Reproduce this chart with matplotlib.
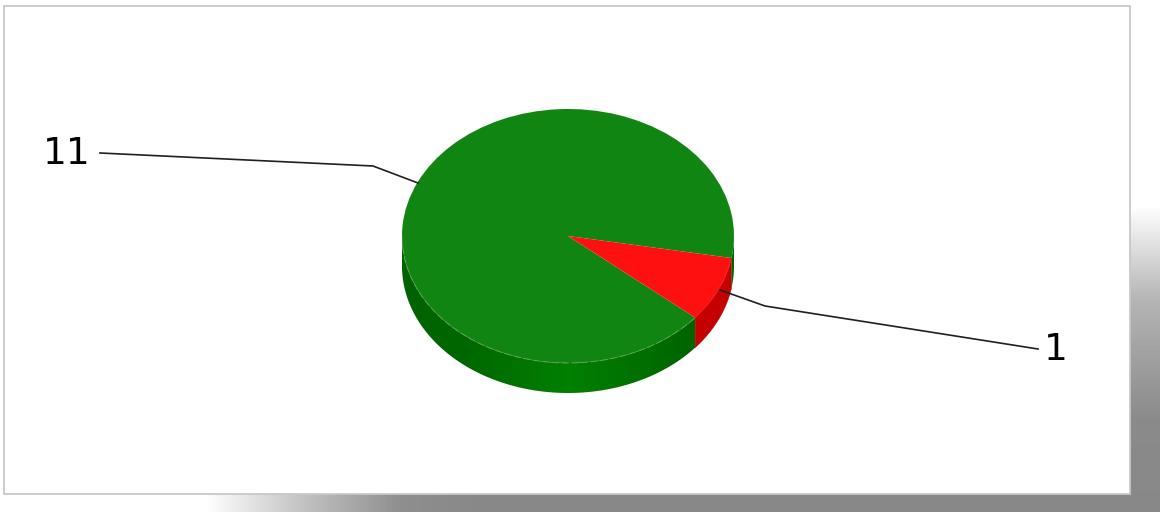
import numpy as np
import matplotlib
matplotlib.use("Agg")
import matplotlib.pyplot as plt
from matplotlib.patches import Polygon, Rectangle

W, H = 1160, 512

slice_values = [11, 1]
slice_labels = ["11", "1"]
top_colors = ["#118511", "#ff1010"]

# pie geometry in pixels
cx, cy = 568, 236
rx, ry = 166, 127
depth = 30
start = -10

fig = plt.figure(figsize=(W / 100, H / 100), dpi=100, facecolor="white")


def px_axes(left, top, right, bottom):
    return fig.add_axes([left / W, 1 - bottom / H, (right - left) / W, (bottom - top) / H])


# background, shadow and frame
bg = fig.add_axes([0, 0, 1, 1])
bg.set_xlim(0, W)
bg.set_ylim(H, 0)
bg.axis("off")

xs = np.arange(0, W)
bottom_grey = np.interp(xs, [205, 300, 400, 480, W], [255, 195, 142, 136, 136])
bg.imshow(bottom_grey[None, :], cmap="gray", vmin=0, vmax=255, extent=[0, W, 512, 494], aspect="auto", zorder=1)
ys = np.arange(0, 512)
right_grey = np.interp(ys, [205, 300, 420, 512], [255, 180, 138, 136])
bg.imshow(right_grey[:, None], cmap="gray", vmin=0, vmax=255, extent=[1130, W, 512, 0], aspect="auto", zorder=1)
bg.set_xlim(0, W)
bg.set_ylim(H, 0)
bg.add_patch(Rectangle((4, 6), 1126, 488, facecolor="white", edgecolor="#c8c8c8", linewidth=1.3, zorder=2))


def wall(a0, a1):
    t = np.radians(np.linspace(a0, a1, 120))
    upper = np.c_[cx + rx * np.cos(t), cy - ry * np.sin(t)]
    lower = np.c_[cx + rx * np.cos(t), cy + depth - ry * np.sin(t)][::-1]
    return np.vstack([upper, lower])


# side wall, angles come from the slice values
angles = np.cumsum(np.array(slice_values) / sum(slice_values) * 360)
green_end = start + angles[0] - 360
red_end = start + angles[1] - 360

grad = np.zeros((1, 340, 3))
gx = np.linspace(cx - rx, cx + rx, 340)
grad[0, :, 1] = np.interp(gx, [cx - rx, cx - 100, cx, cx + 127], [98, 104, 128, 100]) / 255
green_wall = Polygon(wall(-180, green_end), transform=bg.transData, facecolor="none", edgecolor="none")
bg.add_patch(green_wall)
im = bg.imshow(grad, extent=[cx - rx, cx + rx, cy + depth + ry + 2, cy - 5], aspect="auto", zorder=3)
im.set_clip_path(green_wall)
bg.add_patch(Polygon(wall(green_end, red_end), facecolor="#c40000", edgecolor="#c40000", linewidth=0.3, zorder=3))
bg.add_patch(Polygon(wall(red_end, 0), facecolor="#006400", edgecolor="none", zorder=3))
bg.set_xlim(0, W)
bg.set_ylim(H, 0)

# top face
top = px_axes(cx - rx, cy - ry, cx + rx, cy + ry)
top.pie(slice_values, colors=top_colors, startangle=start, radius=1, counterclock=True)
top.set_aspect("auto")
top.set_xlim(-1, 1)
top.set_ylim(-1, 1)
top.patch.set_alpha(0)

# overlay for leader lines, labels and the light front rim
over = fig.add_axes([0, 0, 1, 1])
over.set_xlim(0, W)
over.set_ylim(H, 0)
over.axis("off")
t = np.radians(np.linspace(-175, green_end, 150))
over.plot(cx + rx * np.cos(t), cy - ry * np.sin(t), color="#5f9f55", linewidth=0.7, dashes=(7, 3))
over.plot([100, 373, 418], [153, 166, 183], color="#202020", linewidth=1.2)
over.plot([720, 765, 1038], [290, 306, 349], color="#202020", linewidth=1.2)
over.text(67, 154, slice_labels[0], fontsize=27, family="DejaVu Sans", ha="center", va="center", color="black")
over.text(1056, 350, slice_labels[1], fontsize=27, family="DejaVu Sans", ha="center", va="center", color="black")

fig.savefig("out.png", dpi=100)
